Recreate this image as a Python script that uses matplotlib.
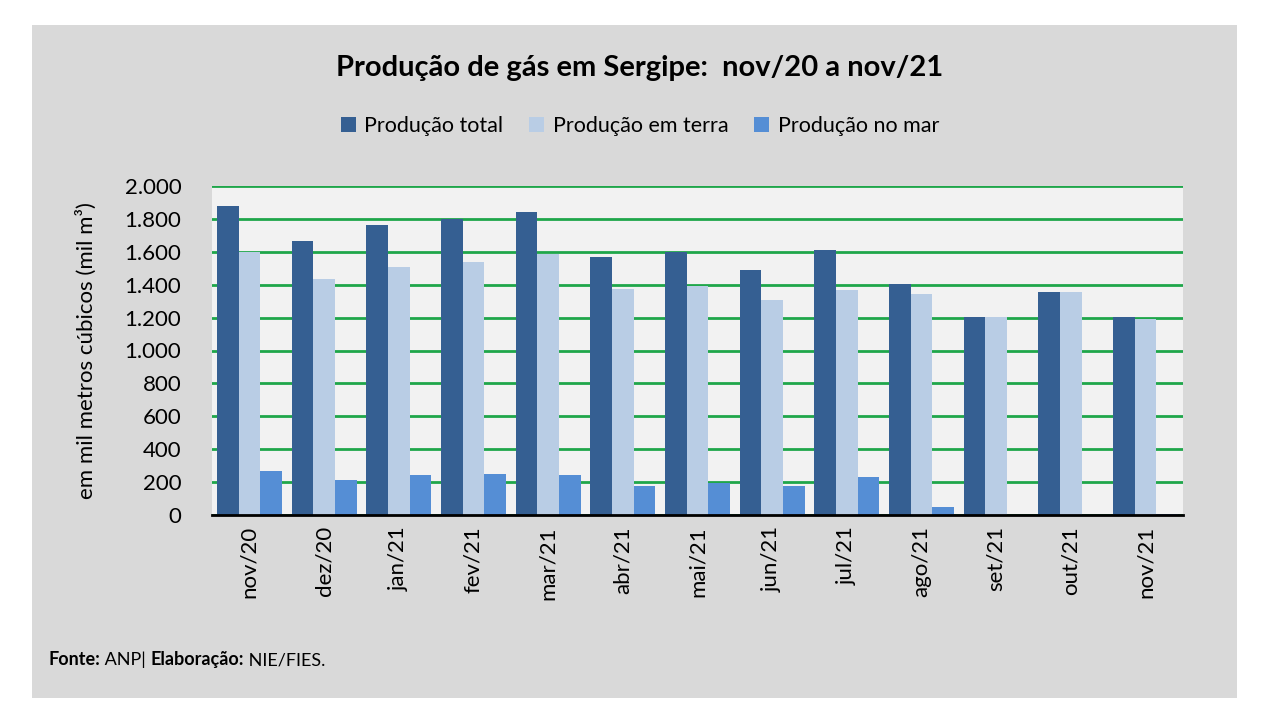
import matplotlib
matplotlib.use("Agg")
import matplotlib.pyplot as plt
import numpy as np
from matplotlib.patches import Rectangle
from matplotlib.ticker import FuncFormatter

plt.rcParams['font.family'] = ['Lato', 'DejaVu Sans']

meses = ["nov/20", "dez/20", "jan/21", "fev/21", "mar/21", "abr/21", "mai/21",
         "jun/21", "jul/21", "ago/21", "set/21", "out/21", "nov/21"]
total = [1876, 1666, 1761, 1798, 1839, 1566, 1600, 1492, 1609, 1405, 1205, 1354, 1205]
terra = [1600, 1435, 1507, 1535, 1586, 1376, 1392, 1305, 1370, 1341, 1203, 1356, 1191]
mar = [265, 214, 245, 251, 245, 179, 194, 179, 230, 49, 0, 0, 8]
series_names = ["Produção total", "Produção em terra", "Produção no mar"]
colors = ["#355f92", "#b9cde5", "#558ed5"]

fig = plt.figure(figsize=(12.8, 7.2), dpi=100)
fig.patch.set_facecolor("white")
fig.add_artist(Rectangle((32/1280, 1-698/720), (1237-32)/1280, (698-25)/720,
                         transform=fig.transFigure, facecolor="#d9d9d9",
                         edgecolor="none", zorder=0))

ax = fig.add_axes([212/1280, 1-515/720, (1183-212)/1280, (515-186)/720])
ax.set_facecolor("#f2f2f2")

x = np.arange(len(meses))
w = 0.29
for i, (vals, name, c) in enumerate(zip([total, terra, mar], series_names, colors)):
    ax.bar(x + (i-1)*w, vals, width=w, color=c, label=name, zorder=3)

ax.set_xlim(-0.5, len(meses)-0.5)
ax.set_ylim(0, 2000)
ax.set_yticks(np.arange(0, 2001, 200))
ax.yaxis.set_major_formatter(FuncFormatter(lambda v, p: f"{int(v):,}".replace(",", ".")))
ax.grid(axis="y", color="#1fa64a", linewidth=2, zorder=1)
ax.set_axisbelow(True)
ax.set_xticks(x)
ax.set_xticklabels(meses, rotation=90, fontsize=16)
ax.tick_params(axis="y", labelsize=16, length=0, pad=22)
ax.tick_params(axis="x", length=0, pad=8)
for s in ["top", "right", "left"]:
    ax.spines[s].set_visible(False)
ax.spines["bottom"].set_color("black")
ax.spines["bottom"].set_linewidth(2)
ax.spines["bottom"].set_zorder(5)

ax.set_ylabel("em mil metros cúbicos (mil m³)", fontsize=16, labelpad=20)

fig.text(0.5, 1-68/720, "Produção de gás em Sergipe:  nov/20 a nov/21",
         ha="center", va="center", fontsize=21, fontweight="bold")

handles, labels = ax.get_legend_handles_labels()
fig.legend(handles, labels, loc="center", bbox_to_anchor=(0.5, 1-126/720), ncol=3,
           frameon=False, fontsize=15.5, handlelength=0.7, handleheight=0.7,
           handletextpad=0.4, columnspacing=1.2)

parts = [("Fonte:", "bold"), (" ANP| ", "normal"), ("Elaboração:", "bold"), (" NIE/FIES.", "normal")]
anchor = fig.text(48/1280, 1-668/720, parts[0][0], ha="left", va="bottom",
                  fontsize=13, fontweight=parts[0][1])
for txt, wt in parts[1:]:
    anchor = ax.annotate(txt, xy=(1, 0), xycoords=anchor, va="bottom", ha="left",
                         fontsize=13, fontweight=wt, annotation_clip=False)

fig.savefig("out.png", dpi=100)
